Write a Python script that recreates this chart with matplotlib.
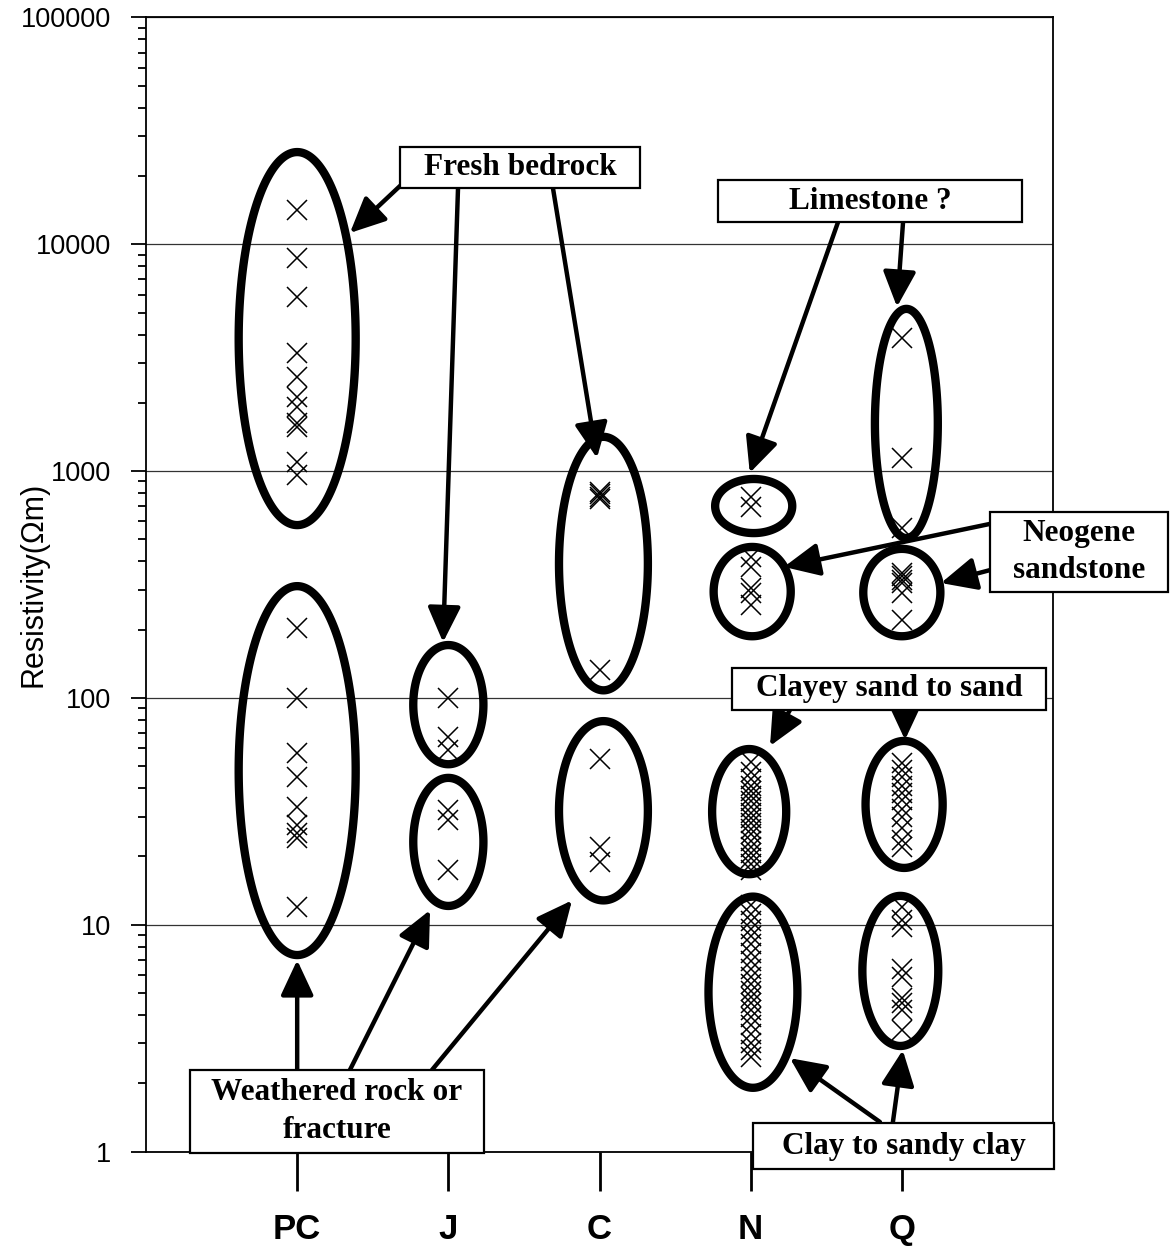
import numpy as np
import matplotlib
matplotlib.use("Agg")
import matplotlib.pyplot as plt
from matplotlib.patches import Rectangle, Polygon
from matplotlib.ticker import FixedLocator, LogLocator, NullFormatter, FuncFormatter

# ---- data: resistivity (ohm-m) by geological age ----
categories = ["PC", "J", "C", "N", "Q"]

pc_values = [14200, 8700, 5850, 3300, 2600, 2120, 1920, 1630, 1560, 1100, 960,
             204, 100, 57, 45, 33, 27.5, 25.4, 24.1, 12]
j_values = [100, 67, 59, 32, 29, 17.4]
c_values = [810, 790, 770, 755, 133, 54, 22, 18.9]
n_values = [771, 697, 419, 379, 304, 289, 257,
            52, 47, 44, 41, 39, 37, 35, 33, 31, 29.5, 28, 26.5,
            25, 23.5, 22, 20.8, 19.6, 18.5, 17.5,
            12.2, 11.2, 10.4, 9.6, 8.9, 8.2, 7.5, 6.9, 6.4, 5.9, 5.5,
            5.1, 4.8, 4.5, 4.2, 3.9, 3.6, 3.3, 3.0, 2.8, 2.6]
q_values = [3850, 1140, 560, 355, 343, 331, 320, 289, 220,
            51.5, 48, 45, 41, 38, 35.5, 32.5, 30, 26.6, 23.6, 22.1,
            12.0, 10.5, 9.8, 6.4, 5.9, 4.75, 4.5, 4.2, 3.45]

y_ticks = [1, 10, 100, 1000, 10000, 100000]

SANS = ["Liberation Sans", "DejaVu Sans"]
SERIF = ["Liberation Serif", "DejaVu Serif"]

fig = plt.figure(figsize=(11.7, 12.48), dpi=100)
ax = fig.add_axes([0.1248, 0.0773, 0.7752, 0.9087])

ax.set_yscale("log")
ax.set_xlim(0, 6)
ax.set_ylim(1, 100000)

# ---- scatter of measurements ----
for i, vals in enumerate([pc_values, j_values, c_values, n_values, q_values]):
    ax.plot([i + 1] * len(vals), vals, linestyle="none", marker="x",
            markersize=14.5, markeredgewidth=1.1, color="black", zorder=4)

# ---- grouping ellipses drawn in (x, log10 y) space ----
groups = [
    (1, 0.387, 578, 25500), (1, 0.387, 7.35, 311),
    (2, 0.232, 51, 171), (2, 0.232, 12.1, 44.4),
    (3.026, 0.294, 108, 1416), (3.026, 0.294, 12.8, 79),
    (4.02, 0.255, 533, 923), (4.01, 0.255, 187, 463),
    (3.99, 0.245, 16.7, 59.5), (4.015, 0.294, 1.91, 13.3),
    (5.03, 0.208, 507, 5190), (5.0, 0.255, 187, 454),
    (5.015, 0.255, 17.8, 64.6), (4.99, 0.251, 2.92, 13.4),
]
t = np.linspace(0, 2 * np.pi, 400, endpoint=False)
for cx, hw, lo, hi in groups:
    lc = (np.log10(lo) + np.log10(hi)) / 2
    lr = (np.log10(hi) - np.log10(lo)) / 2
    pts = np.column_stack([cx + hw * np.cos(t), 10 ** (lc + lr * np.sin(t))])
    ax.add_patch(Polygon(pts, closed=True, fill=False, edgecolor="black",
                         lw=6, joinstyle="round", zorder=3))

# ---- axes styling ----
ax.yaxis.set_major_locator(FixedLocator(y_ticks))
ax.yaxis.set_major_formatter(FuncFormatter(lambda v, p: f"{int(round(v))}"))
ax.yaxis.set_minor_locator(LogLocator(base=10, subs=np.arange(2, 10)))
ax.yaxis.set_minor_formatter(NullFormatter())
ax.tick_params(axis="y", which="major", direction="out", length=11, width=1.3,
               pad=14, labelsize=19.5)
ax.tick_params(axis="y", which="minor", direction="out", length=5.5, width=1.3)
for lab in ax.get_yticklabels():
    lab.set_family(SANS)

ax.set_xticks(range(1, 6))
ax.set_xticklabels(categories, fontsize=25, fontweight="bold", family=SANS)
ax.tick_params(axis="x", direction="out", length=28, width=2, pad=16)

ax.yaxis.grid(True, which="major", color="#333333", lw=0.9)
ax.set_axisbelow(True)
for sp in ax.spines.values():
    sp.set_linewidth(1.3)

ax.set_ylabel("Resistivity(\u03a9m)", fontsize=22, family=SANS)
ax.yaxis.set_label_coords(-0.108, 0.5)

# ---- annotation arrows (tail -> head) ----
arrows = [
    ((1.70, 18600), (1.349, 11220)),
    ((2.064, 17700), (1.965, 176)),
    ((2.692, 17700), (2.983, 1142)),
    ((4.578, 12530), (3.994, 982)),
    ((5.008, 12530), (4.968, 5300)),
    ((5.583, 585), (4.220, 378)),
    ((5.583, 366), (5.259, 321)),
    ((4.260, 88.5), (4.128, 61.4)),
    ((5.021, 88.5), (5.021, 65.3)),
    ((1.0, 2.29), (1.0, 6.98)),
    ((1.349, 2.29), (1.879, 11.6)),
    ((1.892, 2.29), (2.818, 12.8)),
    ((4.855, 1.35), (4.260, 2.58)),
    ((4.941, 1.35), (5.006, 2.80)),
]
for tail, head in arrows:
    ax.annotate("", xy=head, xytext=tail, annotation_clip=False, zorder=5,
                arrowprops=dict(arrowstyle="-|>,head_length=0.9,head_width=0.42",
                                lw=3.2, color="black", shrinkA=0, shrinkB=0,
                                mutation_scale=24))

# ---- labelled boxes: (x0, x1, y_bottom, y_top, text) ----
boxes = [
    (1.680, 3.268, 17700, 26900, "Fresh bedrock"),
    (3.784, 5.795, 12530, 19200, "Limestone ?"),
    (5.583, 6.761, 293, 661, "Neogene\nsandstone"),
    (3.876, 5.954, 88.5, 135.5, "Clayey sand to sand"),
    (0.291, 2.236, 0.985, 2.29, "Weathered rock or\nfracture"),
    (4.015, 6.006, 0.837, 1.336, "Clay to sandy clay"),
]
for x0, x1, yb, yt, label in boxes:
    ax.add_patch(Rectangle((x0, yb), x1 - x0, yt - yb, facecolor="white",
                           edgecolor="black", lw=1.6, clip_on=False, zorder=6))
    ax.text((x0 + x1) / 2, np.sqrt(yb * yt), label, ha="center", va="center",
            fontsize=22.5, fontweight="bold", family=SERIF, linespacing=1.38,
            zorder=7, clip_on=False)

fig.savefig("out.png", dpi=100)
